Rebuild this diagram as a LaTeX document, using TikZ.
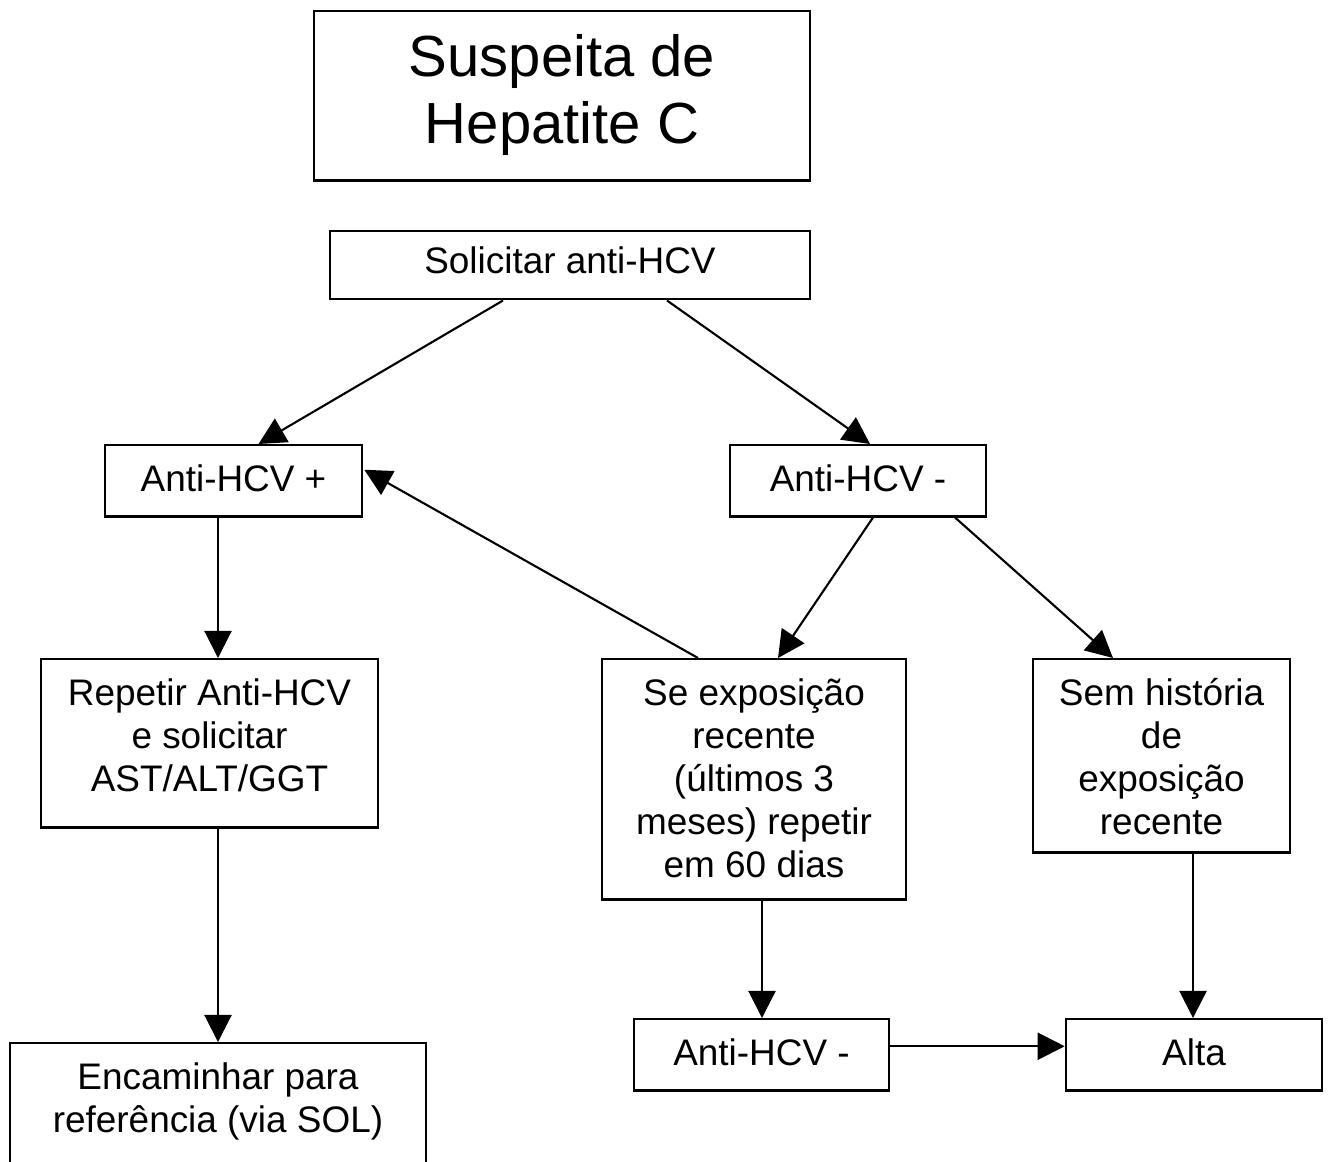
\documentclass[tikz,border=0pt]{standalone}
\usepackage{fontspec}
\setmainfont{Liberation Sans}
\usetikzlibrary{arrows.meta,calc}

\begin{document}
\begin{tikzpicture}[x=0.01cm, y=-0.01cm,
  >={Triangle[length=0.27cm, width=0.27cm]},
  caixa/.style={draw, line width=0.7pt, anchor=north, inner sep=0pt, align=center,
    font=\fontsize{10.5}{12.2}\selectfont, text height=0.46cm, text depth=0.25cm},
  seta/.style={->, line width=0.6pt}]

% ----------------------------
% FRAME (pixel units, y down)
% ----------------------------
\useasboundingbox (0,0) rectangle (1331,1161);

% ----------------------------
% BOXES (text height counts from the last baseline)
% ----------------------------
\node[caixa, minimum width=4.96cm, font=\fontsize{16.5}{19}\selectfont,
  text height=1.32cm, text depth=0.37cm] (titulo) at (562,10)
  {Suspeita de\\Hepatite C};

\node[caixa, minimum width=4.80cm, text height=0.42cm, text depth=0.26cm]
  (sol) at (570,230) {Solicitar anti-HCV};

\node[caixa, minimum width=2.57cm] (apos) at (233.5,444) {Anti-HCV +};
\node[caixa, minimum width=2.56cm] (aneg) at (858,444) {Anti-HCV -};

\node[caixa, minimum width=3.37cm, text height=1.32cm, text depth=0.36cm]
  (rep) at (209.5,658) {Repetir Anti-HCV\\e solicitar\\AST/ALT/GGT};
\node[caixa, minimum width=3.04cm, text height=2.18cm, text depth=0.22cm]
  (se) at (754,658) {Se exposição\\recente\\(últimos 3\\meses) repetir\\em 60 dias};
\node[caixa, minimum width=2.57cm, text height=1.75cm, text depth=0.18cm]
  (sem) at (1161.5,658) {Sem história\\de\\exposição\\recente};

% bottom row (referral box runs off the page)
\node[caixa, minimum width=4.16cm, text height=0.89cm, text depth=0.50cm]
  (enc) at (218,1042) {Encaminhar para\\referência (via SOL)};
\node[caixa, minimum width=2.55cm] (abot) at (761.5,1018) {Anti-HCV -};
\node[caixa, minimum width=2.56cm] (alta) at (1194,1018) {Alta};

% ----------------------------
% ARROWS
% ----------------------------
\draw[seta] ($(sol.south)+(-67,0)$) -- ($(apos.north)+(25,0)$);
\draw[seta] ($(sol.south)+(97,0)$) -- ($(aneg.north)+(12,0)$);

\draw[seta] ($(apos.south)+(-15.5,0)$) -- ($(rep.north)+(8.5,0)$);
\draw[seta] ($(se.north)+(-56,0)$) -- ($(apos.east)+(1,-11)$);

\draw[seta] ($(aneg.south)+(15,0)$) -- ($(se.north)+(24,0)$);
\draw[seta] ($(aneg.south)+(97,0)$) -- ($(sem.north)+(-48.5,0)$);

\draw[seta] ($(rep.south)+(8.5,0)$) -- (enc.north);
\draw[seta] ($(se.south)+(8,0)$) -- ($(abot.north)+(0.5,0)$);
\draw[seta] ($(sem.south)+(31.5,0)$) -- ($(alta.north)+(-1,0)$);

\draw[seta] ($(abot.east)+(0,-8.5)$) -- ($(alta.west)+(0,-8.5)$);

\end{tikzpicture}
\end{document}
